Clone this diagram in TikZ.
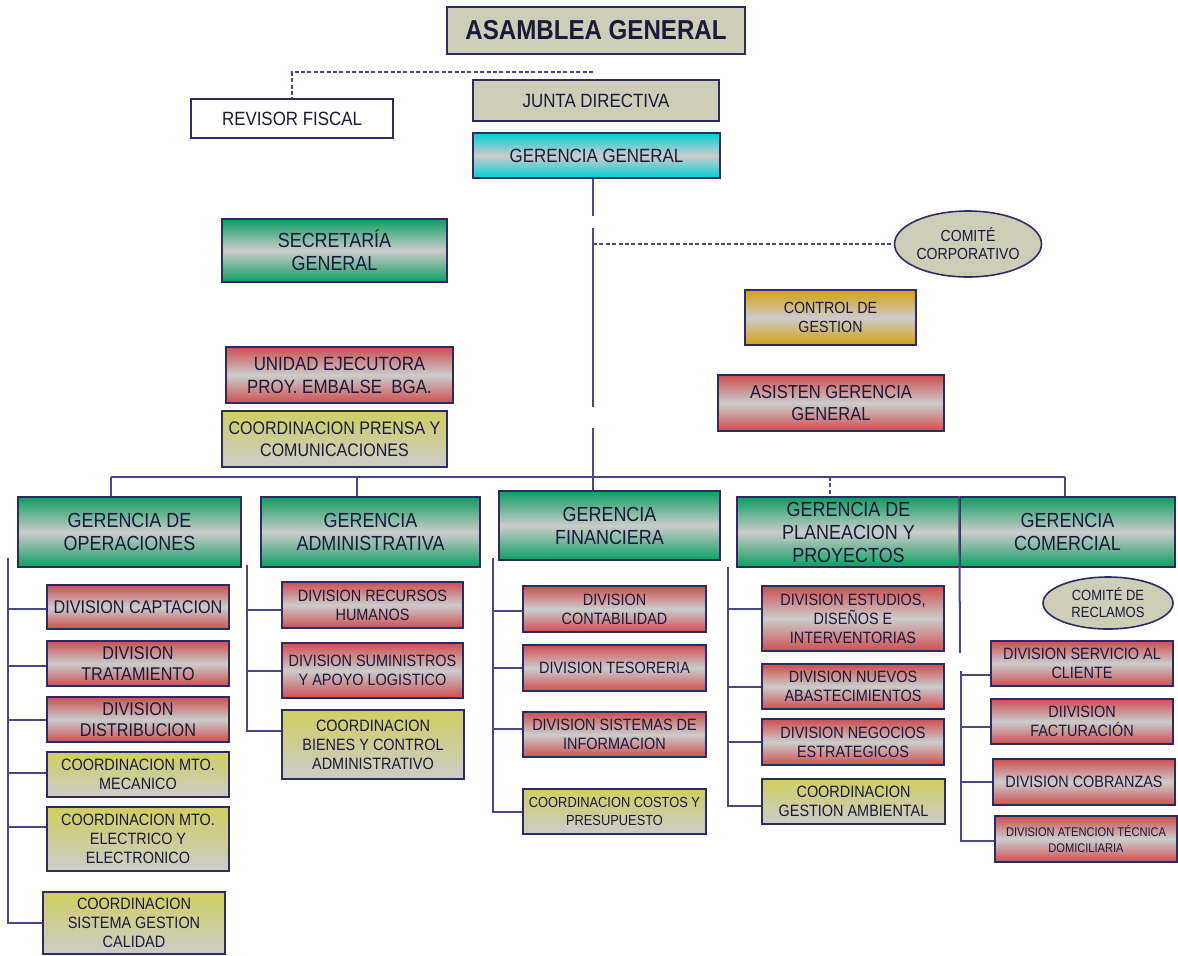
\documentclass[tikz,border=0pt]{standalone}
\usepackage{fontspec}
\setmainfont[FakeStretch=0.88]{Liberation Sans}
\usetikzlibrary{shapes.geometric}
\definecolor{ink}{RGB}{26,26,58}
\definecolor{borde}{RGB}{44,44,96}
\definecolor{linea}{RGB}{72,72,130}
\definecolor{verde}{RGB}{12,158,96}
\definecolor{rojo}{RGB}{206,78,80}
\definecolor{gris}{RGB}{204,204,204}
\definecolor{cian}{RGB}{0,206,210}
\definecolor{oro}{RGB}{212,160,16}
\definecolor{amarillo}{RGB}{208,206,96}
\definecolor{beige}{RGB}{206,205,184}
\tikzset{
	caja/.style={draw=borde, line width=0.8pt, align=center, text=ink, inner sep=0pt},
	tam/.style 2 args={minimum width=#1*0.5pt, minimum height=#2*0.5pt},
	gerbox/.style={caja, top color=verde, bottom color=verde, middle color=gris, font=\fontsize{10.2}{11.5}\selectfont},
	divbox/.style={caja, top color=rojo, bottom color=rojo, middle color=gris, font=\fontsize{8.2}{9.5}\selectfont},
	opbox/.style={divbox, font=\fontsize{9.2}{10.5}\selectfont},
	coordbox/.style={caja, top color=amarillo, bottom color=gris, font=\fontsize{8.2}{9.5}\selectfont},
	comitebox/.style={ellipse, draw=borde, line width=0.8pt, fill=beige, align=center, text=ink, inner sep=0pt, font=\fontsize{8}{9}\selectfont},
	enlace/.style={draw=linea, line width=1pt},
	punteado/.style={draw=linea, line width=1pt, dash pattern=on 2pt off 1.2pt}
}

\begin{document}
\begin{tikzpicture}[x=0.5pt, y=-0.5pt]
	\useasboundingbox (0,0) rectangle (1178,955);

	\node[caja, tam={298}{47}, fill=beige, font=\fontsize{13.7}{16}\selectfont\bfseries] (asamblea) at (596,30.5)  {ASAMBLEA GENERAL};
	\node[caja, tam={202}{39}, fill=white, font=\fontsize{9.6}{11}\selectfont]           (revisor)  at (292,118.5) {REVISOR FISCAL};
	\node[caja, tam={246}{41}, fill=beige, font=\fontsize{9.6}{11}\selectfont]           (junta)    at (596,100.5) {JUNTA DIRECTIVA};
	\node[caja, tam={247}{45}, top color=cian, bottom color=cian, middle color=gris, font=\fontsize{9.6}{11}\selectfont] (gerencia) at (596.5,155.5) {GERENCIA GENERAL};

	\node[gerbox, tam={225}{63}]                                     (secretaria)  at (334.5,250.5) {SECRETARÍA\\GENERAL};
	\node[divbox, tam={227}{56}, font=\fontsize{9.6}{11.5}\selectfont] (unidad)      at (339.5,375)   {UNIDAD EJECUTORA\\PROY. EMBALSE~~BGA.};
	\node[coordbox, tam={225}{56}, font=\fontsize{9.1}{11}\selectfont] (prensa)      at (334.5,439)   {COORDINACION PRENSA Y\\COMUNICACIONES};
	\node[comitebox, tam={147}{66}]                                  (corporativo) at (968,244)     {COMITÉ\\CORPORATIVO};
	\node[caja, tam={171}{55}, top color=oro, bottom color=oro, middle color=gris, font=\fontsize{8.1}{9.5}\selectfont] (control) at (830.5,317.5) {CONTROL DE\\GESTION};
	\node[divbox, tam={226}{56}, font=\fontsize{9.4}{11}\selectfont]   (asisten)     at (831,403)     {ASISTEN GERENCIA\\GENERAL};

	\node[gerbox, tam={223}{70}] (operaciones)    at (129.5,532)  {GERENCIA DE\\OPERACIONES};
	\node[gerbox, tam={219}{70}] (administrativa) at (370.5,532)  {GERENCIA\\ADMINISTRATIVA};
	\node[gerbox, tam={221}{69}] (financiera)     at (609.5,525.5) {GERENCIA\\FINANCIERA};
	\node[gerbox, tam={223}{70}] (planeacion)     at (848.5,532)  {GERENCIA DE\\PLANEACION Y\\PROYECTOS};
	\node[gerbox, tam={215}{70}] (comercial)      at (1067.5,532) {GERENCIA\\COMERCIAL};

	\node[opbox, tam={182}{44}]    (captacion)    at (138,607)   {DIVISION CAPTACION};
	\node[opbox, tam={182}{45}]    (tratamiento)  at (138,663.5) {DIVISION\\TRATAMIENTO};
	\node[opbox, tam={182}{45}]    (distribucion) at (138,719.5) {DIVISION\\DISTRIBUCION};
	\node[coordbox, tam={182}{45}] (mecanico)     at (138,774.5) {COORDINACION MTO.\\MECANICO};
	\node[coordbox, tam={182}{64}] (electrico)    at (138,839)   {COORDINACION MTO.\\ELECTRICO Y\\ELECTRONICO};
	\node[coordbox, tam={182}{62}] (calidad)      at (134,923)   {COORDINACION\\SISTEMA GESTION\\CALIDAD};

	\node[divbox, tam={181}{46}]   (rrhh)        at (372.5,605)   {DIVISION RECURSOS\\HUMANOS};
	\node[divbox, tam={181}{55}]   (suministros) at (372.5,670.5) {DIVISION SUMINISTROS\\Y APOYO LOGISTICO};
	\node[coordbox, tam={182}{69}] (bienes)      at (373,744.5)   {COORDINACION\\BIENES Y CONTROL\\ADMINISTRATIVO};

	\node[divbox, tam={183}{46}] (contabilidad) at (614.5,609)   {DIVISION\\CONTABILIDAD};
	\node[divbox, tam={183}{46}] (tesoreria)    at (614.5,668)   {DIVISION TESORERIA};
	\node[divbox, tam={183}{45}] (sistemas)     at (614.5,734.5) {DIVISION SISTEMAS DE\\INFORMACION};
	\node[coordbox, tam={183}{45}, font=\fontsize{7.3}{9}\selectfont] (costos) at (614.5,811.5) {COORDINACION COSTOS Y\\PRESUPUESTO};

	\node[divbox, tam={182}{65}]   (estudios)  at (853,618.5)   {DIVISION ESTUDIOS,\\DISEÑOS E\\INTERVENTORIAS};
	\node[divbox, tam={182}{45}]   (nuevos)    at (853,686.5)   {DIVISION NUEVOS\\ABASTECIMIENTOS};
	\node[divbox, tam={182}{46}]   (negocios)  at (853,742)     {DIVISION NEGOCIOS\\ESTRATEGICOS};
	\node[coordbox, tam={183}{45}] (ambiental) at (853.5,801.5) {COORDINACION\\GESTION AMBIENTAL};

	\node[comitebox, tam={130}{52}, font=\fontsize{7.4}{8.6}\selectfont] (reclamos) at (1108,603) {COMITÉ DE\\RECLAMOS};
	\node[divbox, tam={182}{45}] (servicio)    at (1082,663.5) {DIVISION SERVICIO AL\\CLIENTE};
	\node[divbox, tam={182}{45}] (facturacion) at (1082,721.5) {DIIVISION\\FACTURACIÓN};
	\node[divbox, tam={182}{46}] (cobranzas)   at (1084,782)   {DIVISION COBRANZAS};
	\node[divbox, tam={182}{46}, font=\fontsize{6.3}{8}\selectfont] (atencion) at (1086,839) {DIVISION ATENCION TÉCNICA\\DOMICILIARIA};

	\coordinate (rf)  at (593,72);
	\coordinate (cc)  at (593,244);
	\coordinate (t1)  at (593,216);
	\coordinate (t2)  at (593,228);
	\coordinate (t3)  at (593,407);
	\coordinate (t4)  at (593,428);
	\coordinate (bus) at (593,477);
	\coordinate (b1)  at (111,477);
	\coordinate (b2)  at (357,477);
	\coordinate (b4)  at (830,477);
	\coordinate (b5)  at (1065,477);
	\coordinate (op)  at (8,558);
	\coordinate (ad)  at (247,565);
	\coordinate (fi)  at (493,558);
	\coordinate (pl)  at (728,567);
	\coordinate (co)  at (961,671);
	\coordinate (cm)  at (960,653);

	\draw[punteado] (rf) -| (revisor.north);
	\draw[punteado] (cc) -- (corporativo.west);
	\draw[enlace] (t1 |- gerencia.south) -- (t1) (t2) -- (t3) (t4) -- (bus);
	\draw[enlace] (b1) -- (b5);
	\draw[enlace] (b1) -- (b1 |- operaciones.north);
	\draw[enlace] (b2) -- (b2 |- administrativa.north);
	\draw[enlace] (bus) -- (bus |- financiera.north);
	\draw[punteado] (b4) -- (b4 |- planeacion.north);
	\draw[enlace] (b5) -- (b5 |- comercial.north);

	\draw[enlace] (op) |- (calidad.west);
	\foreach \n/\d in {captacion/-1, tratamiento/-1, distribucion/0, mecanico/1, electrico/6}
		\draw[enlace] ([yshift=\d pt]op |- \n.west) -- ([yshift=\d pt]\n.west);
	\draw[enlace] (ad) |- ([yshift=7pt]bienes.west);
	\foreach \n/\d in {rrhh/-2.5, suministros/0}
		\draw[enlace] ([yshift=\d pt]ad |- \n.west) -- ([yshift=\d pt]\n.west);
	\draw[enlace] (fi) |- (costos.west);
	\foreach \n/\d in {contabilidad/-1, tesoreria/0, sistemas/3}
		\draw[enlace] ([yshift=\d pt]fi |- \n.west) -- ([yshift=\d pt]\n.west);
	\draw[enlace] (pl) |- ([yshift=-2pt]ambiental.west);
	\foreach \n/\d in {estudios/5, nuevos/0, negocios/0}
		\draw[enlace] ([yshift=\d pt]pl |- \n.west) -- ([yshift=\d pt]\n.west);
	\draw[enlace] (comercial.north west) -- (cm);
	\draw[enlace] (co) |- ([yshift=-1pt]atencion.west);
	\foreach \n/\d in {servicio/-5.5, facturacion/-2.5, cobranzas/0}
		\draw[enlace] ([yshift=\d pt]co |- \n.west) -- ([yshift=\d pt]\n.west);
\end{tikzpicture}
\end{document}
